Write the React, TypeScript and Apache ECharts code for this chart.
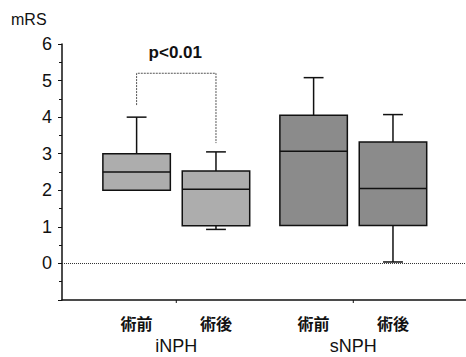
import React, { useEffect, useRef } from "react";
import * as echarts from "echarts";

// Data
const groups = ["iNPH", "sNPH"];
const phases = ["術前", "術後", "術前", "術後"];
const positions = [1, 2, 3.23, 4.23];
const groupOf = [0, 0, 1, 1];
// [min, Q1, median, Q3, max]
const iNPHPre = [2.0, 2.0, 2.5, 3.0, 4.0];
const iNPHPost = [0.93, 1.03, 2.03, 2.53, 3.05];
const sNPHPre = [1.04, 1.04, 3.07, 4.05, 5.08];
const sNPHPost = [0.04, 1.04, 2.05, 3.32, 4.07];
const boxStats = [iNPHPre, iNPHPost, sNPHPre, sNPHPost];
const groupCenters = [1.5, 3.73];
const yTicks = [0, 1, 2, 3, 4, 5, 6];
const pLabel = "p<0.01";

const boxColors = ["#adadad", "#8b8b8b"];
const LATIN = "'Liberation Sans', Arial, sans-serif";
const CJK = "'Noto Sans CJK JP', sans-serif";

export default function App() {
  const ref = useRef<HTMLDivElement>(null);

  useEffect(() => {
    if (!ref.current) return;
    const chart = echarts.init(ref.current, null, { renderer: "svg" });

    const boxData = boxStats.map((s, i) => [positions[i], ...s, groupOf[i], i]);

    const option: any = {
      animation: false,
      grid: { left: 62, right: 0, top: 44, bottom: 57 },
      xAxis: {
        type: "value",
        min: 0.06,
        max: 5.15,
        axisLine: { show: true, onZero: false, lineStyle: { color: "#111", width: 1.5 } },
        axisTick: { show: false },
        axisLabel: { show: false },
        splitLine: { show: false },
      },
      yAxis: {
        type: "value",
        min: -1,
        max: 6,
        interval: 1,
        axisLine: { show: true, lineStyle: { color: "#111", width: 1.5 } },
        axisTick: { show: true, length: 4, lineStyle: { color: "#111" } },
        minorTick: { show: true, splitNumber: 2, length: 3, lineStyle: { color: "#111" } },
        axisLabel: {
          margin: 10,
          color: "#111",
          fontSize: 18,
          fontFamily: LATIN,
          formatter: (v: number) => (yTicks.includes(v) ? String(v) : ""),
        },
        splitLine: { show: false },
      },
      graphic: [
        {
          type: "text",
          left: 11,
          top: 11,
          style: { text: "mRS", fontSize: 16, fontFamily: LATIN, fill: "#111" },
        },
      ],
      series: [
        {
          type: "custom",
          data: boxData,
          encode: { x: 0, y: [1, 2, 3, 4, 5] },
          renderItem: (params: any, api: any) => {
            const x = api.value(0);
            const mn = api.coord([x, api.value(1)]);
            const q1 = api.coord([x, api.value(2)]);
            const md = api.coord([x, api.value(3)]);
            const q3 = api.coord([x, api.value(4)]);
            const mx = api.coord([x, api.value(5)]);
            const g = api.value(6);
            const idx = api.value(7);
            const hw = api.size([0.85, 0])[0] / 2;
            const cw = api.size([0.25, 0])[0] / 2;
            const cx = q1[0];
            const stroke = { stroke: "#111", lineWidth: 1.5 };
            const children: any[] = [];
            if (mx[1] < q3[1] - 0.5) {
              children.push({ type: "line", shape: { x1: cx, y1: q3[1], x2: cx, y2: mx[1] }, style: stroke });
              children.push({ type: "line", shape: { x1: cx - cw, y1: mx[1], x2: cx + cw, y2: mx[1] }, style: stroke });
            }
            if (mn[1] > q1[1] + 0.5) {
              children.push({ type: "line", shape: { x1: cx, y1: q1[1], x2: cx, y2: mn[1] }, style: stroke });
              children.push({ type: "line", shape: { x1: cx - cw, y1: mn[1], x2: cx + cw, y2: mn[1] }, style: stroke });
            }
            children.push({
              type: "rect",
              shape: { x: cx - hw, y: q3[1], width: hw * 2, height: q1[1] - q3[1] },
              style: { fill: boxColors[g], stroke: "#111", lineWidth: 1.5 },
            });
            children.push({ type: "line", shape: { x1: cx - hw, y1: md[1], x2: cx + hw, y2: md[1] }, style: stroke });
            const base = api.coord([x, -1]);
            children.push({
              type: "text",
              x: cx,
              y: base[1] + 15,
              style: {
                text: phases[idx],
                fontSize: 16,
                fontWeight: "bold",
                fontFamily: CJK,
                fill: "#111",
                align: "center",
                verticalAlign: "top",
              },
            });
            return { type: "group", children };
          },
          markLine: {
            silent: true,
            symbol: ["none", "none"],
            label: { show: false },
            lineStyle: { type: "dotted", color: "#333", width: 1 },
            data: [{ yAxis: 0 }],
          },
          z: 3,
        },
        {
          type: "custom",
          data: groupCenters.map((c, i) => [c, i]),
          encode: { x: 0 },
          renderItem: (params: any, api: any) => {
            const c = api.value(0);
            const i = api.value(1);
            const p = api.coord([c, -1]);
            return {
              type: "group",
              children: [
                { type: "line", shape: { x1: p[0], y1: p[1], x2: p[0], y2: p[1] + 3 }, style: { stroke: "#111", lineWidth: 1 } },
                {
                  type: "text",
                  x: p[0],
                  y: p[1] + 37,
                  style: {
                    text: groups[i],
                    fontSize: 18,
                    fontFamily: LATIN,
                    fill: "#111",
                    align: "center",
                    verticalAlign: "top",
                  },
                },
              ],
            };
          },
        },
        {
          type: "custom",
          data: [[positions[0], positions[1]]],
          encode: { x: [0, 1] },
          renderItem: (params: any, api: any) => {
            const a = api.value(0);
            const b = api.value(1);
            const p1 = api.coord([a, 4.33]);
            const p2 = api.coord([a, 5.2]);
            const p3 = api.coord([b, 5.2]);
            const p4 = api.coord([b, 3.29]);
            const t = api.coord([(a + b) / 2, 5.78]);
            return {
              type: "group",
              children: [
                {
                  type: "polyline",
                  shape: { points: [p1, p2, p3, p4] },
                  style: { stroke: "#555", lineWidth: 1, fill: "none", lineDash: [2, 1] },
                },
                {
                  type: "text",
                  x: t[0] - 1,
                  y: t[1],
                  style: {
                    text: pLabel,
                    fontSize: 17,
                    fontWeight: "bold",
                    fontFamily: LATIN,
                    fill: "#111",
                    align: "center",
                    verticalAlign: "middle",
                  },
                },
              ],
            };
          },
        },
      ],
    };

    chart.setOption(option);
    return () => chart.dispose();
  }, []);

  return (
    <div
      ref={ref}
      style={{ position: "absolute", left: 0, top: 0, width: 466, height: 357 }}
    />
  );
}
